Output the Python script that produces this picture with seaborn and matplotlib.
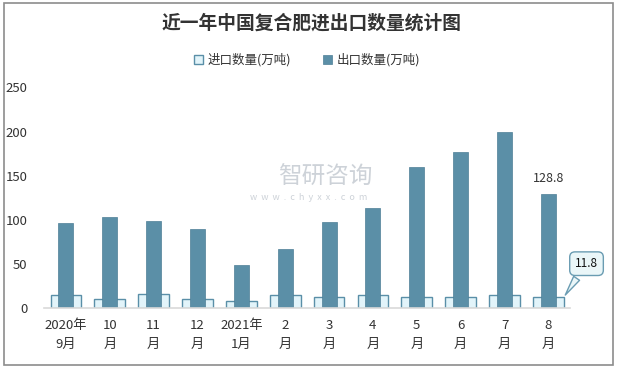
import pandas as pd
import matplotlib
matplotlib.use("Agg")
import matplotlib.pyplot as plt
import seaborn as sns
from matplotlib.patches import Rectangle

sns.set_style("white")
plt.rcParams['font.family'] = ['Noto Sans CJK SC', 'DejaVu Sans']

# data
months = ["2020年\n9月", "10\n月", "11\n月", "12\n月", "2021年\n1月", "2\n月",
          "3\n月", "4\n月", "5\n月", "6\n月", "7\n月", "8\n月"]
imports = [15, 10, 16, 10, 8, 14, 12, 15, 12, 12, 14, 11.8]
exports = [96, 103, 98, 89, 49, 67, 97, 113, 160, 177, 199, 128.8]

df = pd.DataFrame({"month": months, "imp": imports, "exp": exports})

fig = plt.figure(figsize=(6.17, 3.69), dpi=100)
ax = fig.add_axes([0.0713, 0.166, 0.853, 0.597])

# watermark (behind bars)
fig.text(0.527, 0.52, "智研咨询", ha="center", va="center", fontsize=17,
         color="#C5CBD2", alpha=0.85)
fig.text(0.50, 0.465, "w  w  w  .  c  h  y  x  x  .  c  o  m", ha="center",
         va="center", fontsize=6.5, color="#C5CBD2", alpha=0.85)

sns.barplot(data=df, x="month", y="imp", ax=ax, width=0.7, color="#E2F4FA",
            edgecolor="#5A8FA8", linewidth=1.0, saturation=1, label="进口数量(万吨)")
sns.barplot(data=df, x="month", y="exp", ax=ax, width=0.34, color="#5B8FA7",
            edgecolor="#4E7F97", linewidth=0.5, saturation=1, label="出口数量(万吨)")

ax.set_ylim(0, 250)
ax.set_xlim(-0.5, len(months) - 0.5)
ax.set_yticks(range(0, 251, 50))
ax.set_xlabel("")
ax.set_ylabel("")
ax.patch.set_alpha(0)
for s in ["top", "right", "left"]:
    ax.spines[s].set_visible(False)
ax.spines["bottom"].set_color("#D9D9D9")
ax.spines["bottom"].set_linewidth(1.2)
ax.tick_params(axis="y", length=0, pad=12, labelsize=9.5, colors="#333333")
ax.tick_params(axis="x", length=0, pad=8, labelsize=9.5, colors="#333333")
for t in ax.get_xticklabels():
    t.set_linespacing(1.6)

# last export label
ax.text(len(months) - 1, exports[-1] + 10, f"{exports[-1]}", ha="center",
        va="bottom", fontsize=9, color="#333333")

# callout for last import value
ax.annotate(f"{imports[-1]}", xy=(len(months) - 1 + 0.35, imports[-1]),
            xytext=(len(months) - 1 + 0.87, 50), textcoords="data",
            ha="center", va="center", fontsize=8.5, color="#111111",
            bbox=dict(boxstyle="round,pad=0.45", fc="#EAF6F8", ec="#6A9CB2", lw=1),
            arrowprops=dict(arrowstyle="wedge,tail_width=0.6", fc="#EAF6F8",
                            ec="#6A9CB2", lw=1),
            annotation_clip=False)

fig.text(0.505, 0.938, "近一年中国复合肥进出口数量统计图", ha="center", va="center",
         fontsize=13.5, fontweight="bold", color="#333333")

leg = ax.legend(loc="center", bbox_to_anchor=(0.5, 1.125), ncol=2, frameon=False,
                fontsize=9, handlelength=0.7, handleheight=0.7,
                columnspacing=2.5, handletextpad=0.4)
for t in leg.get_texts():
    t.set_color("#333333")

fig.patches.append(Rectangle((0.006, 0.012), 0.987, 0.98, transform=fig.transFigure,
                             fill=False, ec="#8C8C8C", lw=1.2))

fig.savefig("out.png", dpi=100)
